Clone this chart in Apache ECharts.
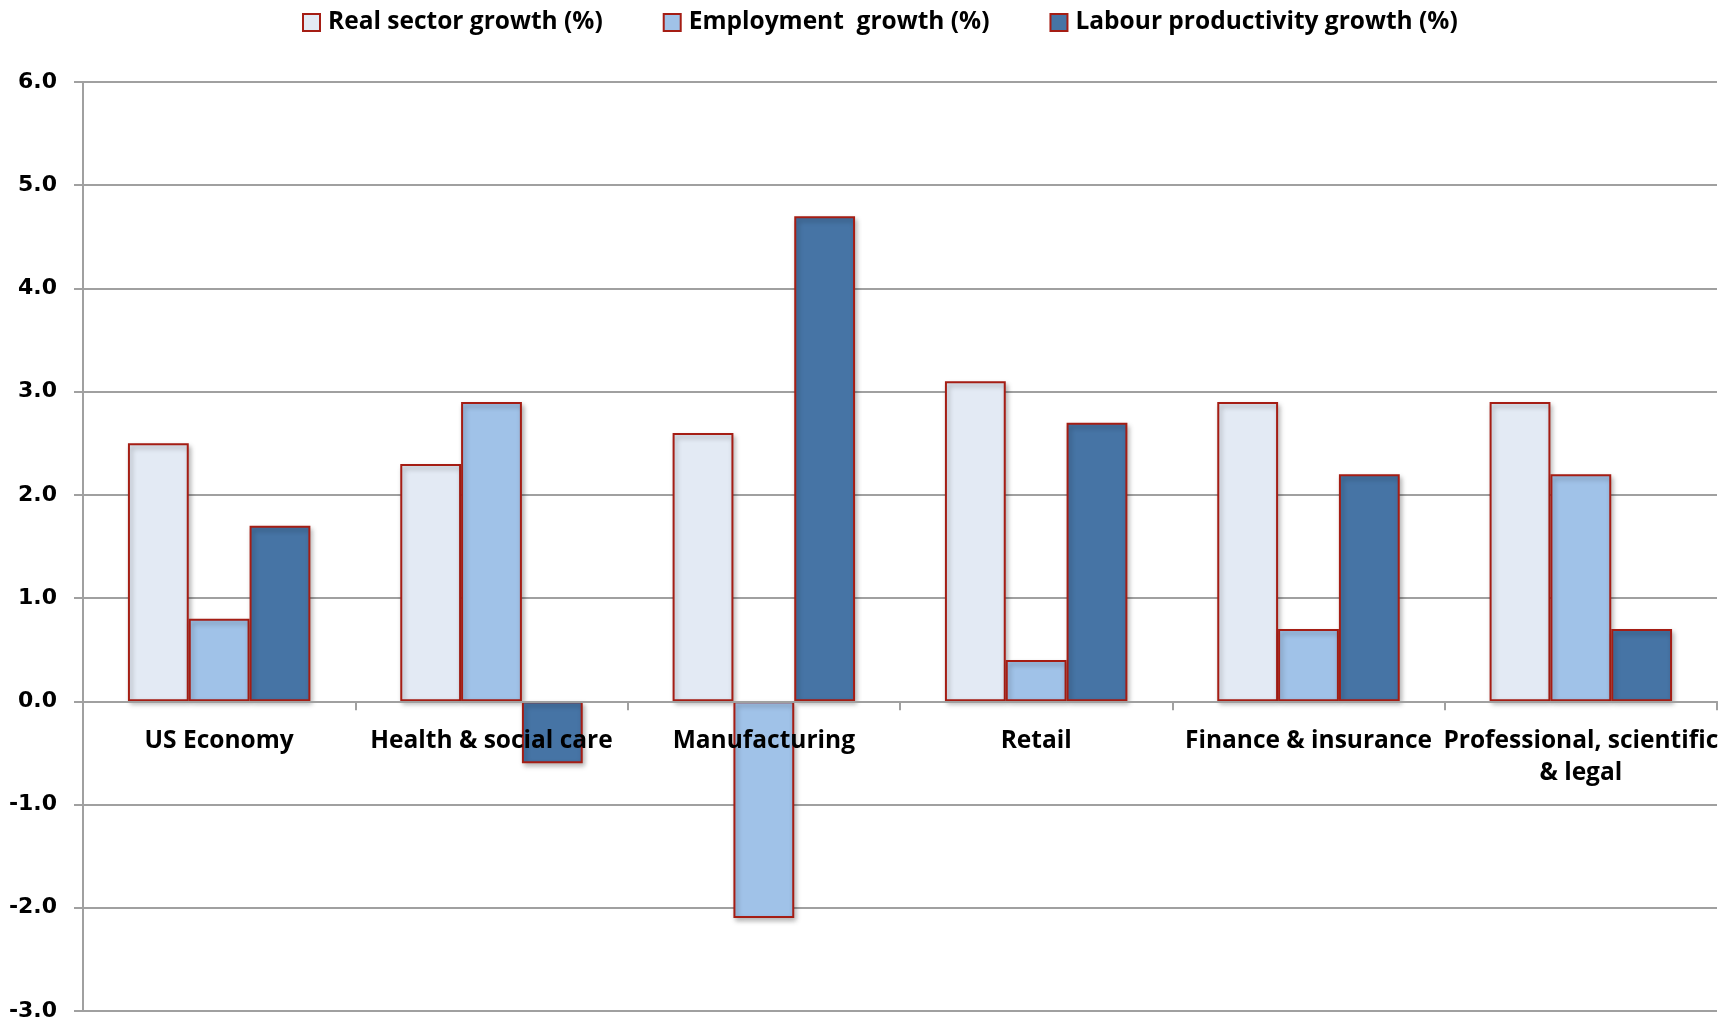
<!DOCTYPE html>
<html>
<head>
<meta charset="utf-8">
<script src="https://cdn.jsdelivr.net/npm/echarts@6/dist/echarts.min.js"></script>
<style>
    html, body {margin: 0; padding: 0; background: #fff;}
    #chart {width: 1734px; height: 1025px;}
</style>
</head>
<body>
<div id="chart"></div>
<script>
// 分类和数据
var categories = ["US Economy", "Health & social care", "Manufacturing", "Retail", "Finance & insurance", "Professional, scientific\n& legal"];
var seriesNames = ["Real sector growth (%)", "Employment  growth (%)", "Labour productivity growth (%)"];
var realSector = [2.5, 2.3, 2.6, 3.1, 2.9, 2.9];
var employment = [0.8, 2.9, -2.1, 0.4, 0.7, 2.2];
var productivity = [1.7, -0.6, 4.7, 2.7, 2.2, 0.7];
var yTicks = [-3, -2, -1, 0, 1, 2, 3, 4, 5, 6];

var colors = ["#e3eaf4", "#a0c2e8", "#4674a5"];
var labelFont = "Open Sans";

var chartHeight = 1025;
var gridTop = 82;
var gridBottom = 14;
var yMin = yTicks[0];
var yMax = yTicks[yTicks.length - 1];
// x轴放到0刻度的位置
var plotHeight = chartHeight - gridTop - gridBottom;
var zeroOffset = -plotHeight * (0 - yMin) / (yMax - yMin);

function makeSeries(name, data, color) {
    return {
        name: name,
        type: "bar",
        data: data,
        barGap: "0%",
        barCategoryGap: "33%",
        itemStyle: {
            color: color,
            borderColor: "#a51d14",
            borderWidth: 2,
            shadowBlur: 5,
            shadowOffsetX: 2,
            shadowOffsetY: 3,
            shadowColor: "rgba(0, 0, 0, 0.3)"
        }
    };
}

var myChart = echarts.init(document.getElementById("chart"));
var option = {
    animation: false,
    legend: {
        top: 5,
        left: 297,
        icon: "rect",
        itemGap: 60,
        itemWidth: 17,
        itemHeight: 17,
        textStyle: {
            fontFamily: labelFont,
            fontWeight: "bold",
            fontSize: 24.5,
            color: "#000",
            padding: [0, 0, 0, 3]
        },
        data: seriesNames
    },
    grid: {
        left: 83,
        right: 17,
        top: gridTop,
        bottom: gridBottom,
        containLabel: false,
        outerBoundsMode: "none"
    },
    xAxis: {
        type: "category",
        data: categories,
        z: 5,
        offset: zeroOffset,
        axisLine: {onZero: false, lineStyle: {color: "#a0a0a0", width: 2}},
        axisTick: {show: true, length: 9, lineStyle: {color: "#a0a0a0", width: 2}},
        axisLabel: {
            interval: 0,
            margin: 24,
            fontFamily: labelFont,
            fontWeight: "bold",
            fontSize: 24.5,
            lineHeight: 32,
            color: "#000"
        }
    },
    yAxis: {
        type: "value",
        min: yMin,
        max: yMax,
        interval: 1,
        axisLine: {show: true, lineStyle: {color: "#a0a0a0", width: 2}},
        axisTick: {show: true, length: 9, lineStyle: {color: "#a0a0a0", width: 2}},
        splitLine: {lineStyle: {color: "#a0a0a0", width: 2}},
        axisLabel: {
            margin: 26,
            fontFamily: "DejaVu Sans",
            fontWeight: "bold",
            fontSize: 22,
            color: "#000",
            formatter: function (v) {
                return v.toFixed(1);
            }
        }
    },
    series: [
        makeSeries(seriesNames[0], realSector, colors[0]),
        makeSeries(seriesNames[1], employment, colors[1]),
        makeSeries(seriesNames[2], productivity, colors[2])
    ]
};
myChart.setOption(option);
</script>
</body>
</html>
